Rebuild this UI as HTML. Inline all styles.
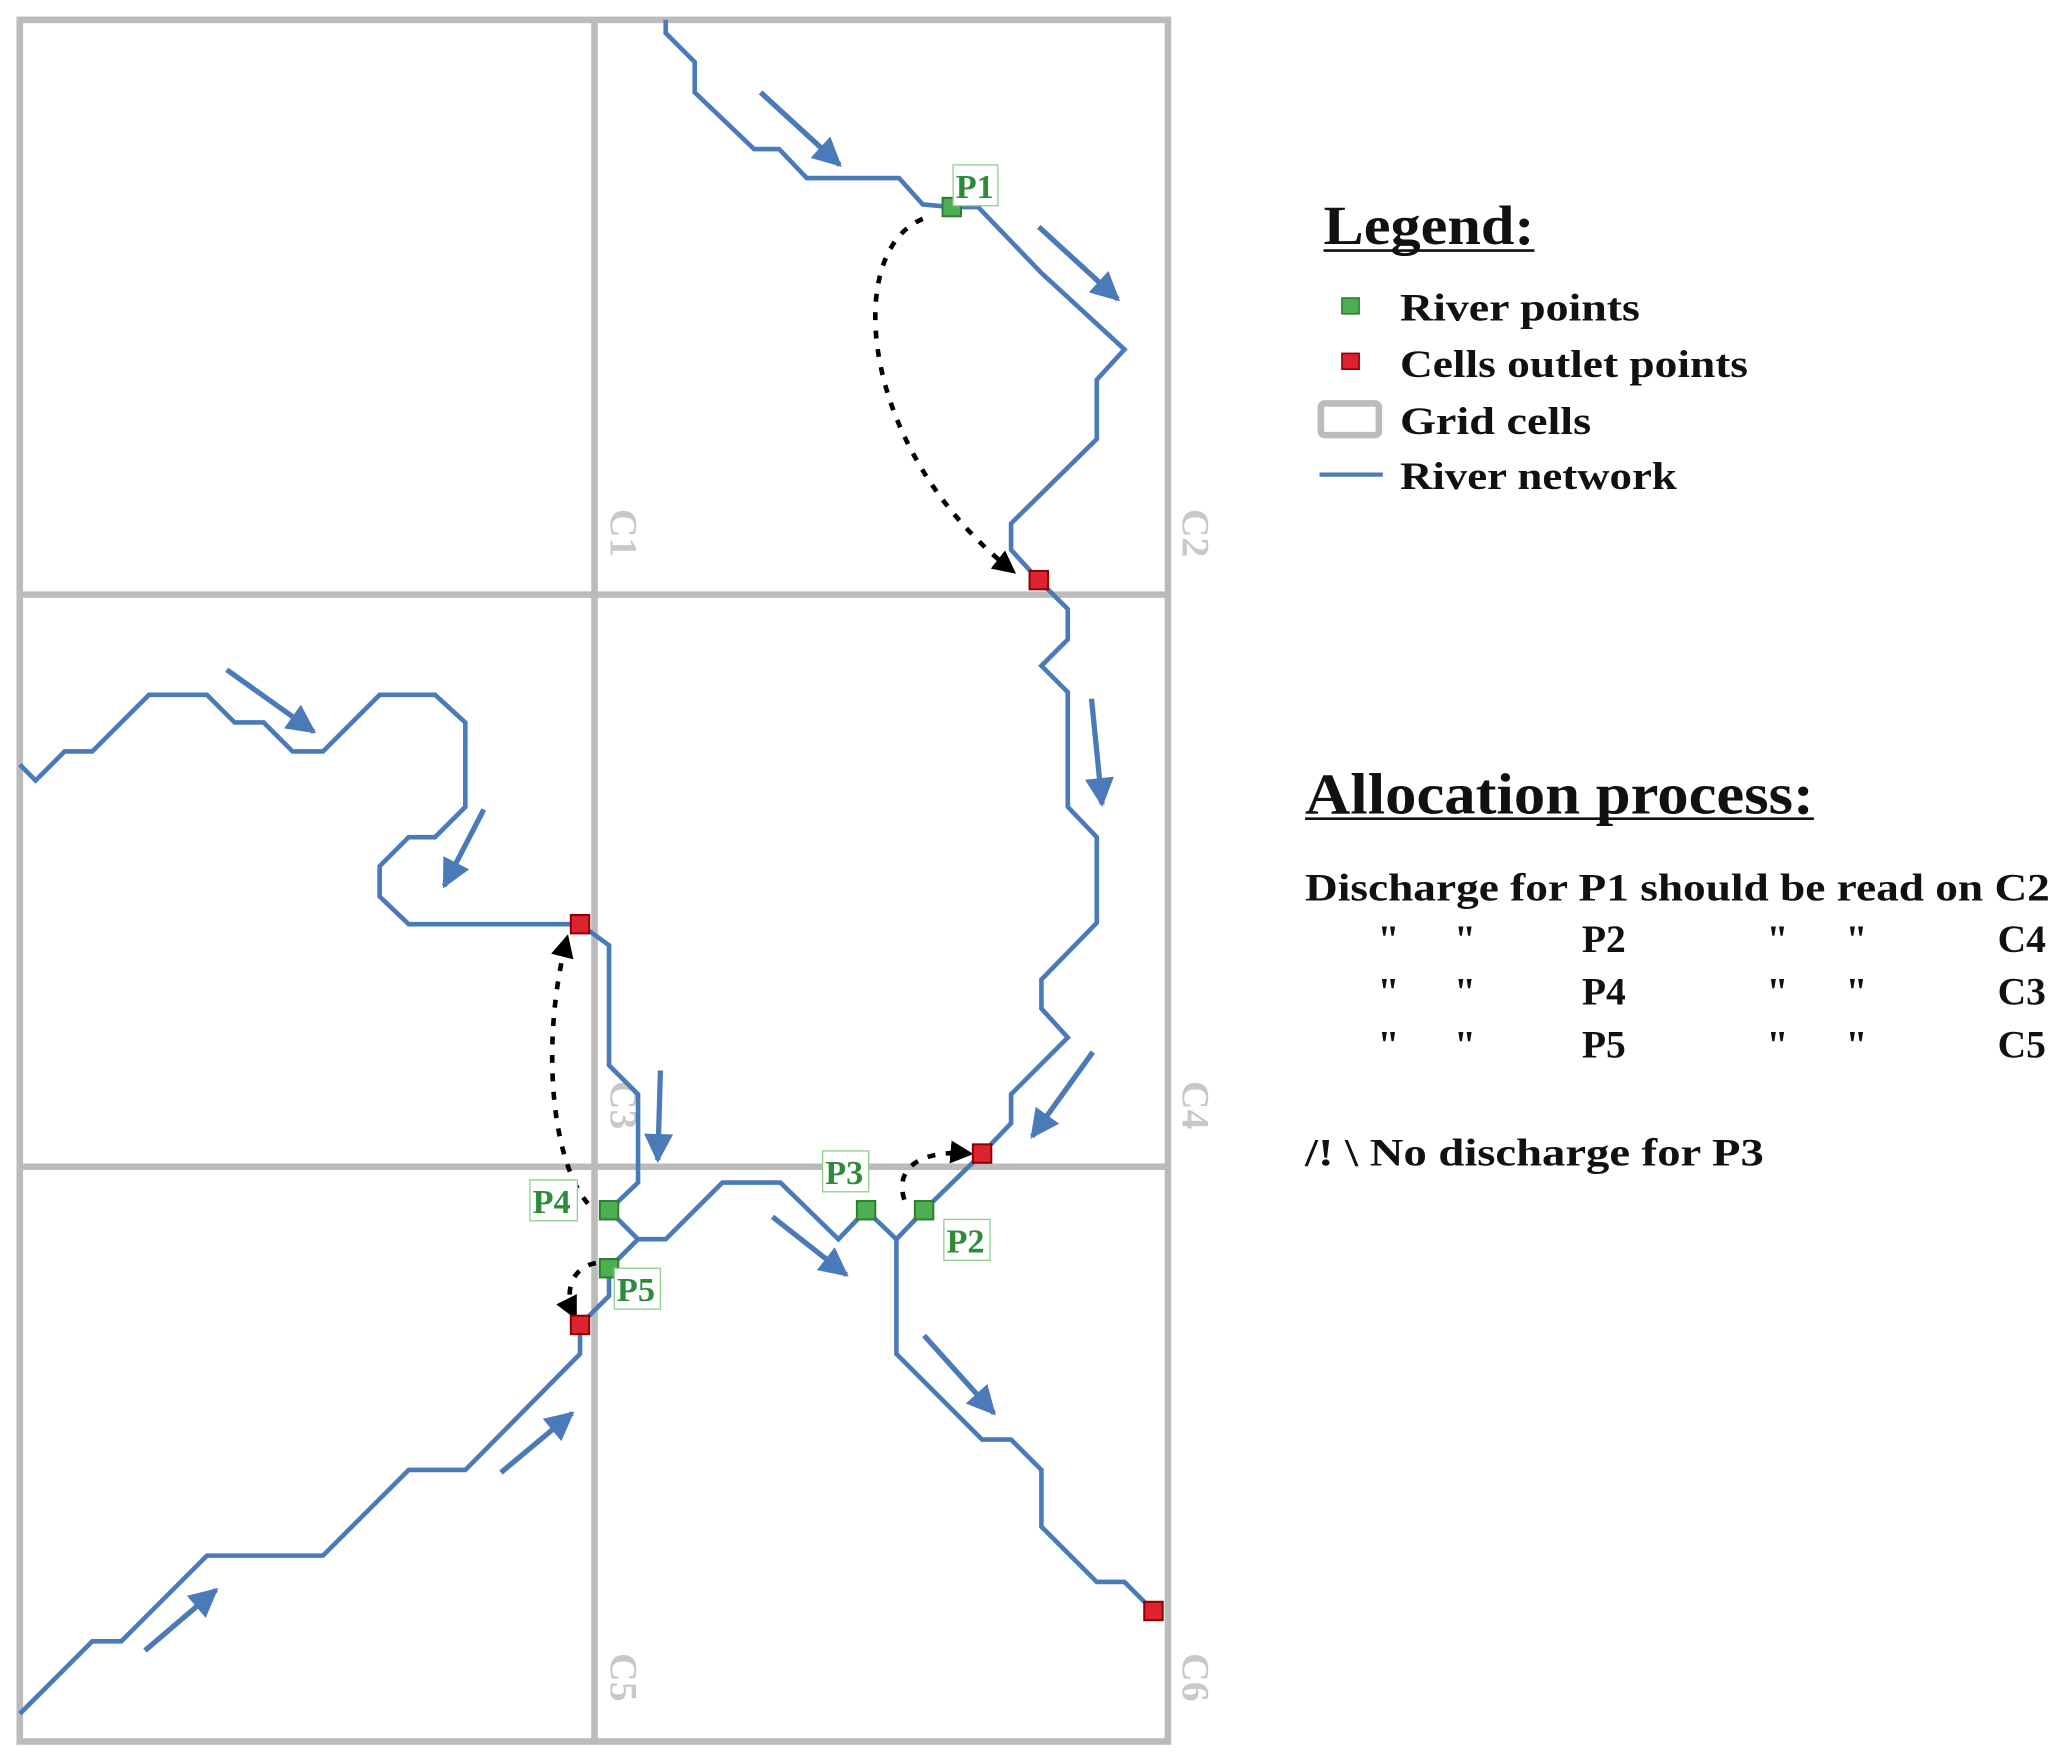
<!DOCTYPE html>
<html><head><meta charset="utf-8"><style>
html,body{margin:0;padding:0;background:#fff;}
svg{display:block;}
</style></head><body>
<svg width="2067" height="1764" viewBox="0 0 1568 1338" xmlns="http://www.w3.org/2000/svg">
<defs>
<marker id="ba" viewBox="0 0 10 10" refX="8" refY="5" markerWidth="5" markerHeight="5" orient="auto" markerUnits="strokeWidth"><path d="M0,0 L10,5 L0,10 z" fill="#000"/></marker>
<marker id="bl" viewBox="0 0 10 10" refX="9" refY="5" markerWidth="6.5" markerHeight="5.5" orient="auto" markerUnits="strokeWidth"><path d="M0,0 L10,5 L0,10 z" fill="#4a7ab8"/></marker>
</defs>
<rect width="1568" height="1338" fill="#fff"/>
<g stroke="#bbbbbb" stroke-width="5" fill="none">
<rect x="15" y="15" width="871" height="1306"/>
<line x1="451" y1="15" x2="451" y2="1321"/>
<line x1="15" y1="451" x2="886" y2="451"/>
<line x1="15" y1="885" x2="886" y2="885"/>
</g>
<g font-family="Liberation Serif, serif" font-weight="bold" font-size="30" fill="#c8c8c8">
<text transform="translate(463,386) rotate(90)">C1</text>
<text transform="translate(897,386) rotate(90)">C2</text>
<text transform="translate(463,820) rotate(90)">C3</text>
<text transform="translate(897,820) rotate(90)">C4</text>
<text transform="translate(463,1254) rotate(90)">C5</text>
<text transform="translate(897,1254) rotate(90)">C6</text>
</g>
<g stroke="#4a7ab8" stroke-width="3.5" fill="none" stroke-linejoin="miter">
<polyline points="505,15 505,25 527,47 527,70 572,113 591,113 612,135 682,135 700,155 722,157 742,157 790,207 853,265 832,288 832,333 767,397 767,417 788,440 810,462 810,485 790,505 810,525 810,612 832,635 832,700 790,743 790,765 810,787 767,830 767,852 745,875 701,918 680,940 657,918 636,940 592,897 548,897 505,940 484,940 462,918 484,897 484,830 462,808 462,717 440,701"/>
<polyline points="680,940 680,1027 745,1092 767,1092 790,1115 790,1158 832,1200 853,1200 875,1222"/>
<polyline points="484,940 462,962 462,983 440,1005 440,1027 353,1115 310,1115 245,1180 157,1180 92,1245 70,1245 15,1300"/>
<polyline points="15,580 27,592 49,570 70,570 113,527 157,527 178,548 200,548 222,570 245,570 288,527 330,527 353,548 353,612 330,635 310,635 288,657 288,680 310,701 440,701"/>
</g>
<g stroke="#4a7ab8" stroke-width="4" fill="none" marker-end="url(#bl)">
<line x1="577" y1="70" x2="637" y2="125"/>
<line x1="788" y1="172" x2="848" y2="227"/>
<line x1="172" y1="508" x2="238" y2="555"/>
<line x1="367" y1="614" x2="337" y2="672"/>
<line x1="828" y1="530" x2="836" y2="610"/>
<line x1="829" y1="798" x2="783" y2="862"/>
<line x1="501" y1="812" x2="499" y2="880"/>
<line x1="586" y1="923" x2="642" y2="967"/>
<line x1="701" y1="1013" x2="754" y2="1072"/>
<line x1="380" y1="1117" x2="434" y2="1072"/>
<line x1="110" y1="1252" x2="164" y2="1206"/>
</g>
<g stroke="#000" stroke-width="3.5" fill="none" stroke-dasharray="6,8" marker-end="url(#ba)">
<path d="M700,166 C640,190 650,340 768,433"/>
<path d="M446,913 C418,880 410,790 430,712"/>
<path d="M686,910 C678,885 700,872 735,875"/>
<path d="M452,958 C432,962 428,982 436,998"/>
</g>
<g stroke="#2e7d32" stroke-width="1.5" fill="#4caf50">
<rect x="715" y="150" width="14" height="14"/>
<rect x="694" y="911" width="14" height="14"/>
<rect x="650" y="911" width="14" height="14"/>
<rect x="455" y="911" width="14" height="14"/>
<rect x="455" y="955" width="14" height="14"/>
</g>
<g stroke="#8b0000" stroke-width="1.5" fill="#dd2230">
<rect x="781" y="433" width="14" height="14"/>
<rect x="738" y="868" width="14" height="14"/>
<rect x="433" y="694" width="14" height="14"/>
<rect x="433" y="998" width="14" height="14"/>
<rect x="868" y="1215" width="14" height="14"/>
</g>
<g stroke="#8fd08f" stroke-width="1" fill="#fff">
<rect x="723" y="125" width="34" height="31"/>
<rect x="402" y="895" width="36" height="31"/>
<rect x="624" y="873" width="35" height="31"/>
<rect x="716" y="925" width="35" height="31"/>
<rect x="466" y="962" width="35" height="31"/>
</g>
<g font-family="Liberation Serif, serif" font-weight="bold" font-size="26" fill="#2e8b3a">
<text x="725" y="150">P1</text>
<text x="404" y="920">P4</text>
<text x="626" y="898">P3</text>
<text x="718" y="950">P2</text>
<text x="468" y="987">P5</text>
</g>
<g font-family="Liberation Serif, serif" font-weight="bold" fill="#111">
<text x="1004" y="185" font-size="42" textLength="160" lengthAdjust="spacingAndGlyphs">Legend:</text>
<line x1="1004" y1="190" x2="1164" y2="190" stroke="#111" stroke-width="2"/>
<rect x="1018" y="226" width="13" height="12" fill="#4caf50" stroke="#2e7d32" stroke-width="1.2"/>
<rect x="1018" y="268" width="13" height="12" fill="#dd2230" stroke="#8b0000" stroke-width="1.2"/>
<rect x="1002" y="306" width="44" height="24" rx="3" fill="#fff" stroke="#bbb" stroke-width="5"/>
<line x1="1001" y1="360" x2="1049" y2="360" stroke="#4a7ab8" stroke-width="3.2"/>
<text x="1062" y="243" font-size="30" textLength="182" lengthAdjust="spacingAndGlyphs">River points</text>
<text x="1062" y="286" font-size="30" textLength="264" lengthAdjust="spacingAndGlyphs">Cells outlet points</text>
<text x="1062" y="329" font-size="30" textLength="145" lengthAdjust="spacingAndGlyphs">Grid cells</text>
<text x="1062" y="371" font-size="30" textLength="210" lengthAdjust="spacingAndGlyphs">River network</text>
<text x="990" y="617" font-size="44" textLength="386" lengthAdjust="spacingAndGlyphs">Allocation process:</text>
<line x1="990" y1="621" x2="1376" y2="621" stroke="#111" stroke-width="2"/>
<text x="990" y="683" font-size="30" textLength="565" lengthAdjust="spacingAndGlyphs">Discharge for P1 should be read on C2</text>
<g font-size="30">
<text x="1045" y="722">"</text><text x="1103" y="722">"</text><text x="1200" y="722">P2</text><text x="1340" y="722">"</text><text x="1400" y="722">"</text><text x="1552" y="722" text-anchor="end">C4</text>
<text x="1045" y="762">"</text><text x="1103" y="762">"</text><text x="1200" y="762">P4</text><text x="1340" y="762">"</text><text x="1400" y="762">"</text><text x="1552" y="762" text-anchor="end">C3</text>
<text x="1045" y="802">"</text><text x="1103" y="802">"</text><text x="1200" y="802">P5</text><text x="1340" y="802">"</text><text x="1400" y="802">"</text><text x="1552" y="802" text-anchor="end">C5</text>
</g>
<text x="990" y="884" font-size="30" textLength="348" lengthAdjust="spacingAndGlyphs">/! \ No discharge for P3</text>
</g>
</svg>
</body></html>
